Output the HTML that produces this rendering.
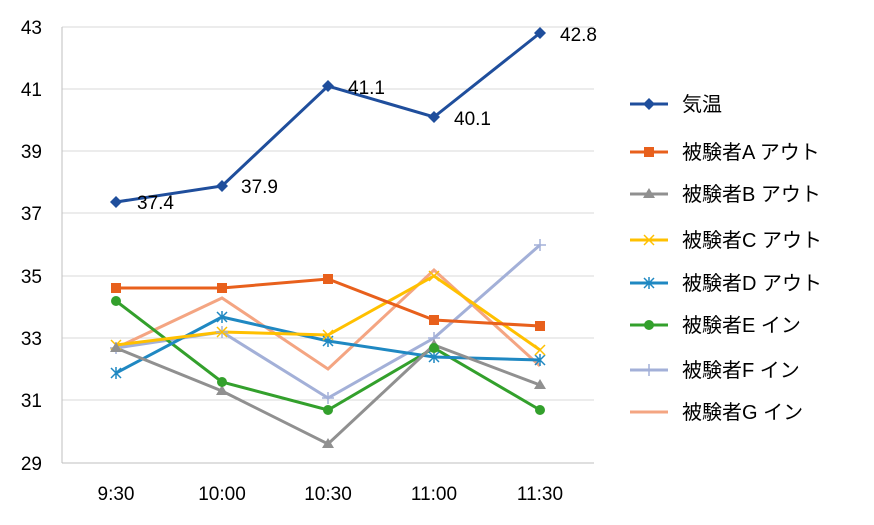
<!DOCTYPE html>
<html><head><meta charset="utf-8"><style>body{margin:0;background:#fff}svg{display:block}text{font-family:"Liberation Sans","Noto Sans CJK JP",sans-serif;fill:#000}</style></head><body>
<svg width="874" height="525" xmlns="http://www.w3.org/2000/svg">
<defs>
<path id="mx" d="M-5,-5L5,5M-5,5L5,-5" stroke-width="1.5" fill="none"/>
<path id="ma" d="M-5,-5L5,5M-5,5L5,-5M0,-6V6" stroke-width="1.5" fill="none"/>
<path id="mp" d="M-6,0H6M0,-6V6" stroke-width="1.5" fill="none"/>
</defs>
<g stroke="#d9d9d9" stroke-width="1">
<line x1="62" y1="27" x2="594" y2="27"/><line x1="62" y1="89" x2="594" y2="89"/><line x1="62" y1="151" x2="594" y2="151"/><line x1="62" y1="213" x2="594" y2="213"/><line x1="62" y1="276" x2="594" y2="276"/><line x1="62" y1="338" x2="594" y2="338"/><line x1="62" y1="400" x2="594" y2="400"/>
</g>
<line x1="62" y1="27" x2="62" y2="463" stroke="#bfbfbf"/>
<line x1="62" y1="463" x2="594" y2="463" stroke="#bfbfbf"/>
<g font-size="19" text-anchor="end">
<text x="42" y="34">43</text><text x="42" y="96">41</text><text x="42" y="158">39</text><text x="42" y="220">37</text><text x="42" y="283">35</text><text x="42" y="345">33</text><text x="42" y="407">31</text><text x="42" y="470">29</text>
</g>
<g font-size="19" text-anchor="middle">
<text x="116" y="500">9:30</text><text x="222" y="500">10:00</text><text x="328" y="500">10:30</text><text x="434" y="500">11:00</text><text x="540" y="500">11:30</text>
</g>
<g fill="none" stroke-width="3">
<polyline stroke="#f4a582" points="116,348 222,298 328,369 434,270 540,366"/>
<polyline stroke="#a3b0d8" points="116,348 222,332 328,398 434,338 540,245"/>
<polyline stroke="#33a02c" points="116,301 222,382 328,410 434,348 540,410"/>
<polyline stroke="#1f88c2" points="116,373 222,317 328,341 434,357 540,360"/>
<polyline stroke="#ffc000" points="116,345 222,332 328,335 434,276 540,350"/>
<polyline stroke="#909090" points="116,348 222,391 328,444 434,345 540,385"/>
<polyline stroke="#e8601c" points="116,288 222,288 328,279 434,320 540,326"/>
<polyline stroke="#1f4e9c" points="116,202 222,186 328,86 434,117 540,33"/>
</g>
<g stroke="#a3b0d8"><use href="#mp" x="116" y="348"/><use href="#mp" x="222" y="332"/><use href="#mp" x="328" y="398"/><use href="#mp" x="434" y="338"/><use href="#mp" x="540" y="245"/></g>
<g stroke="#1f88c2"><use href="#ma" x="116" y="373"/><use href="#ma" x="222" y="317"/><use href="#ma" x="328" y="341"/><use href="#ma" x="434" y="357"/><use href="#ma" x="540" y="360"/></g>
<g stroke="#ffc000"><use href="#mx" x="116" y="345"/><use href="#mx" x="222" y="332"/><use href="#mx" x="328" y="335"/><use href="#mx" x="434" y="276"/><use href="#mx" x="540" y="350"/></g>
<g fill="#1f4e9c"><path d="M116,196l6,6-6,6-6-6z"/><path d="M222,180l6,6-6,6-6-6z"/><path d="M328,80l6,6-6,6-6-6z"/><path d="M434,111l6,6-6,6-6-6z"/><path d="M540,27l6,6-6,6-6-6z"/></g>
<g fill="#e8601c"><rect x="111" y="283" width="10" height="10"/><rect x="217" y="283" width="10" height="10"/><rect x="323" y="274" width="10" height="10"/><rect x="429" y="315" width="10" height="10"/><rect x="535" y="321" width="10" height="10"/></g>
<g fill="#909090"><path d="M116,342l6,10h-12z"/><path d="M222,385l6,10h-12z"/><path d="M328,438l6,10h-12z"/><path d="M434,339l6,10h-12z"/><path d="M540,379l6,10h-12z"/></g>
<g fill="#33a02c"><circle cx="116" cy="301" r="5"/><circle cx="222" cy="382" r="5"/><circle cx="328" cy="410" r="5"/><circle cx="434" cy="348" r="5"/><circle cx="540" cy="410" r="5"/></g>
<g font-size="19"><text x="137" y="209">37.4</text><text x="241" y="193">37.9</text><text x="348" y="94">41.1</text><text x="454" y="125">40.1</text><text x="560" y="41">42.8</text></g>
<g font-size="20">
<line x1="630" y1="104" x2="668" y2="104" stroke="#1f4e9c" stroke-width="3"/><path d="M649,98l6,6-6,6-6-6z" fill="#1f4e9c"/><text x="682" y="111">気温</text>
<line x1="630" y1="152" x2="668" y2="152" stroke="#e8601c" stroke-width="3"/><rect x="644" y="147" width="10" height="10" fill="#e8601c"/><text x="682" y="159">被験者A アウト</text>
<line x1="630" y1="194" x2="668" y2="194" stroke="#909090" stroke-width="3"/><path d="M649,188l6,10h-12z" fill="#909090"/><text x="682" y="201">被験者B アウト</text>
<line x1="630" y1="240" x2="668" y2="240" stroke="#ffc000" stroke-width="3"/><use href="#mx" x="649" y="240" stroke="#ffc000"/><text x="682" y="247">被験者C アウト</text>
<line x1="630" y1="283" x2="668" y2="283" stroke="#1f88c2" stroke-width="3"/><use href="#ma" x="649" y="283" stroke="#1f88c2"/><text x="682" y="290">被験者D アウト</text>
<line x1="630" y1="325" x2="668" y2="325" stroke="#33a02c" stroke-width="3"/><circle cx="649" cy="325" r="5" fill="#33a02c"/><text x="682" y="332">被験者E イン</text>
<line x1="630" y1="370" x2="668" y2="370" stroke="#a3b0d8" stroke-width="3"/><use href="#mp" x="649" y="370" stroke="#a3b0d8"/><text x="682" y="377">被験者F イン</text>
<line x1="630" y1="412" x2="668" y2="412" stroke="#f4a582" stroke-width="3"/><text x="682" y="419">被験者G イン</text>
</g>
</svg>
</body></html>
